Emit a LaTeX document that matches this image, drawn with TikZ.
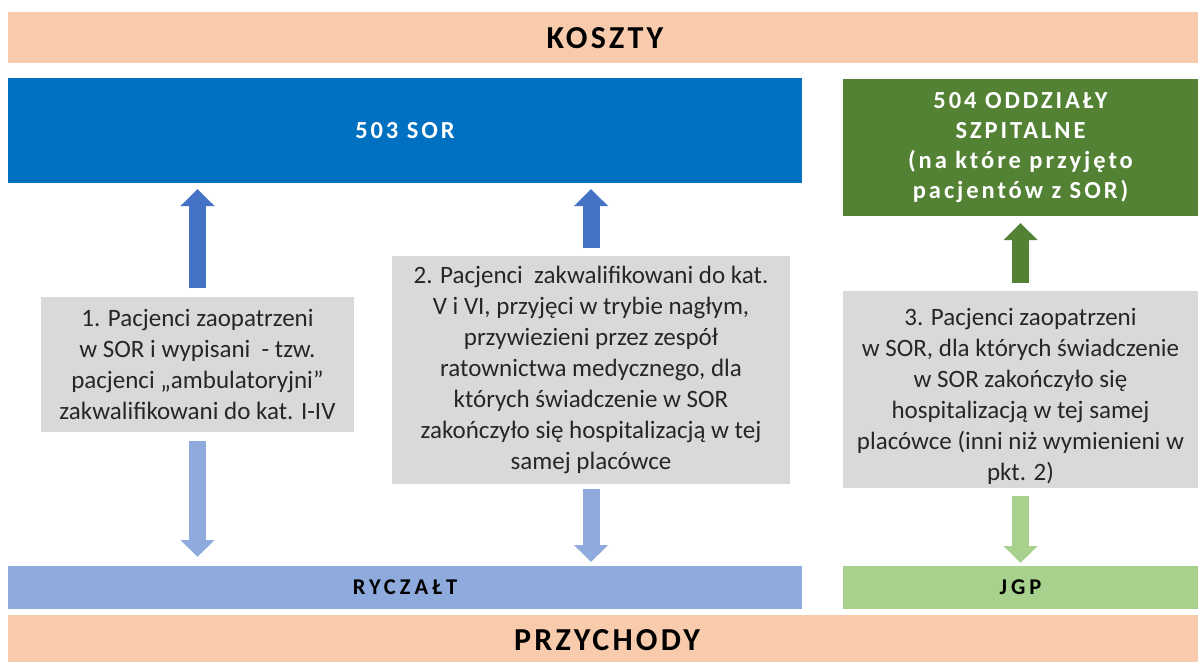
\documentclass[tikz,border=0pt]{standalone}
\usepackage{fontspec}
\setmainfont{Carlito}
\newfontfamily\bighdr[LetterSpace=10]{Carlito}
\newfontfamily\smallhdr[LetterSpace=18]{Carlito}
\newfontfamily\boxhdr[LetterSpace=12]{Carlito}
\usetikzlibrary{arrows.meta}
\definecolor{peach}{HTML}{F8CBAD}
\definecolor{sorblue}{HTML}{0070C0}
\definecolor{darkgreen}{HTML}{548235}
\definecolor{boxgray}{HTML}{D9D9D9}
\definecolor{arrowblue}{HTML}{4472C4}
\definecolor{lightblue}{HTML}{8FAADC}
\definecolor{lightgreen}{HTML}{A9D18E}
\tikzset{
  band/.style={inner sep=0pt, outer sep=0pt, font=\bighdr\bfseries\fontsize{32}{36}\selectfont, text=black},
  lowbox/.style={inner sep=0pt, outer sep=0pt, align=center, font=\smallhdr\bfseries\fontsize{22.5}{30}\selectfont, text=black},
  hdrbox/.style={inner sep=0pt, outer sep=0pt, align=center, font=\boxhdr\bfseries\fontsize{24.5}{30}\selectfont, text=white},
  txtbox/.style={inner sep=0pt, outer sep=0pt, fill=boxgray, align=center, font=\fontsize{25}{31}\selectfont, text=black!85},
  blockarrow/.style={line width=17pt, -{Triangle[length=17pt,width=33pt]}},
}
\begin{document}
\begin{tikzpicture}[x=1pt,y=-1pt]
\useasboundingbox (0,0) rectangle (1198,662);
\fill[white] (0,0) rectangle (1198,662);
% bands
\fill[peach] (8,12) rectangle (1198,63);
\node[band] (koszty) at (605,38) {KOSZTY};
\fill[peach] (8,615) rectangle (1198,662);
\node[band] (przych) at (607,640) {PRZYCHODY};
% top boxes
\node[hdrbox, fill=sorblue, minimum width=794pt, minimum height=105pt] (sor) at (405,130.5) {503 SOR};
\node[hdrbox, fill=darkgreen, minimum width=355pt, minimum height=137pt] (oddz) at (1020.5,147.5) {504 ODDZIAŁY\\SZPITALNE\\(na które przyjęto\\pacjentów z SOR)};
% bottom boxes
\node[lowbox, fill=lightblue, minimum width=794pt, minimum height=43pt] (rycz) at (405,587.5) {RYCZAŁT};
\node[lowbox, fill=lightgreen, minimum width=355pt, minimum height=43pt] (jgp) at (1020.5,587.5) {JGP};
% text boxes
\node[txtbox, minimum width=313pt, minimum height=135pt] (box1) at (197.5,364.5) {1. Pacjenci zaopatrzeni\\w SOR i wypisani \ - tzw.\\pacjenci „ambulatoryjni”\\zakwalifikowani do kat. I-IV};
\node[txtbox, minimum width=398pt, minimum height=228pt] (box2) at (591,370) {2. Pacjenci \ zakwalifikowani do kat.\\V i VI, przyjęci w trybie nagłym,\\przywiezieni przez zespół\\ratownictwa medycznego, dla\\których świadczenie w SOR\\zakończyło się hospitalizacją w tej\\samej placówce};
\node[txtbox, minimum width=355pt, minimum height=197pt] (box3) at (1020.5,389.5) {\rule{0pt}{32pt}3. Pacjenci zaopatrzeni\\w SOR, dla których świadczenie\\w SOR zakończyło się\\hospitalizacją w tej samej\\placówce (inni niż wymienieni w\\pkt. 2)};
% arrows up
\draw[blockarrow, arrowblue, shorten <=9pt, shorten >=6pt] (box1.north) -- (sor.south -| box1.north);
\draw[blockarrow, arrowblue, shorten <=8pt, shorten >=6pt] (box2.north) -- (sor.south -| box2.north);
\draw[blockarrow, darkgreen, shorten <=8pt, shorten >=7pt] (box3.north) -- (oddz.south);
% arrows down
\draw[blockarrow, lightblue, shorten <=9pt, shorten >=9pt] (box1.south) -- (rycz.north -| box1.south);
\draw[blockarrow, lightblue, shorten <=5pt, shorten >=4pt] (box2.south) -- (rycz.north -| box2.south);
\draw[blockarrow, lightgreen, shorten <=8pt, shorten >=3pt] (box3.south) -- (jgp.north);
\end{tikzpicture}
\end{document}
